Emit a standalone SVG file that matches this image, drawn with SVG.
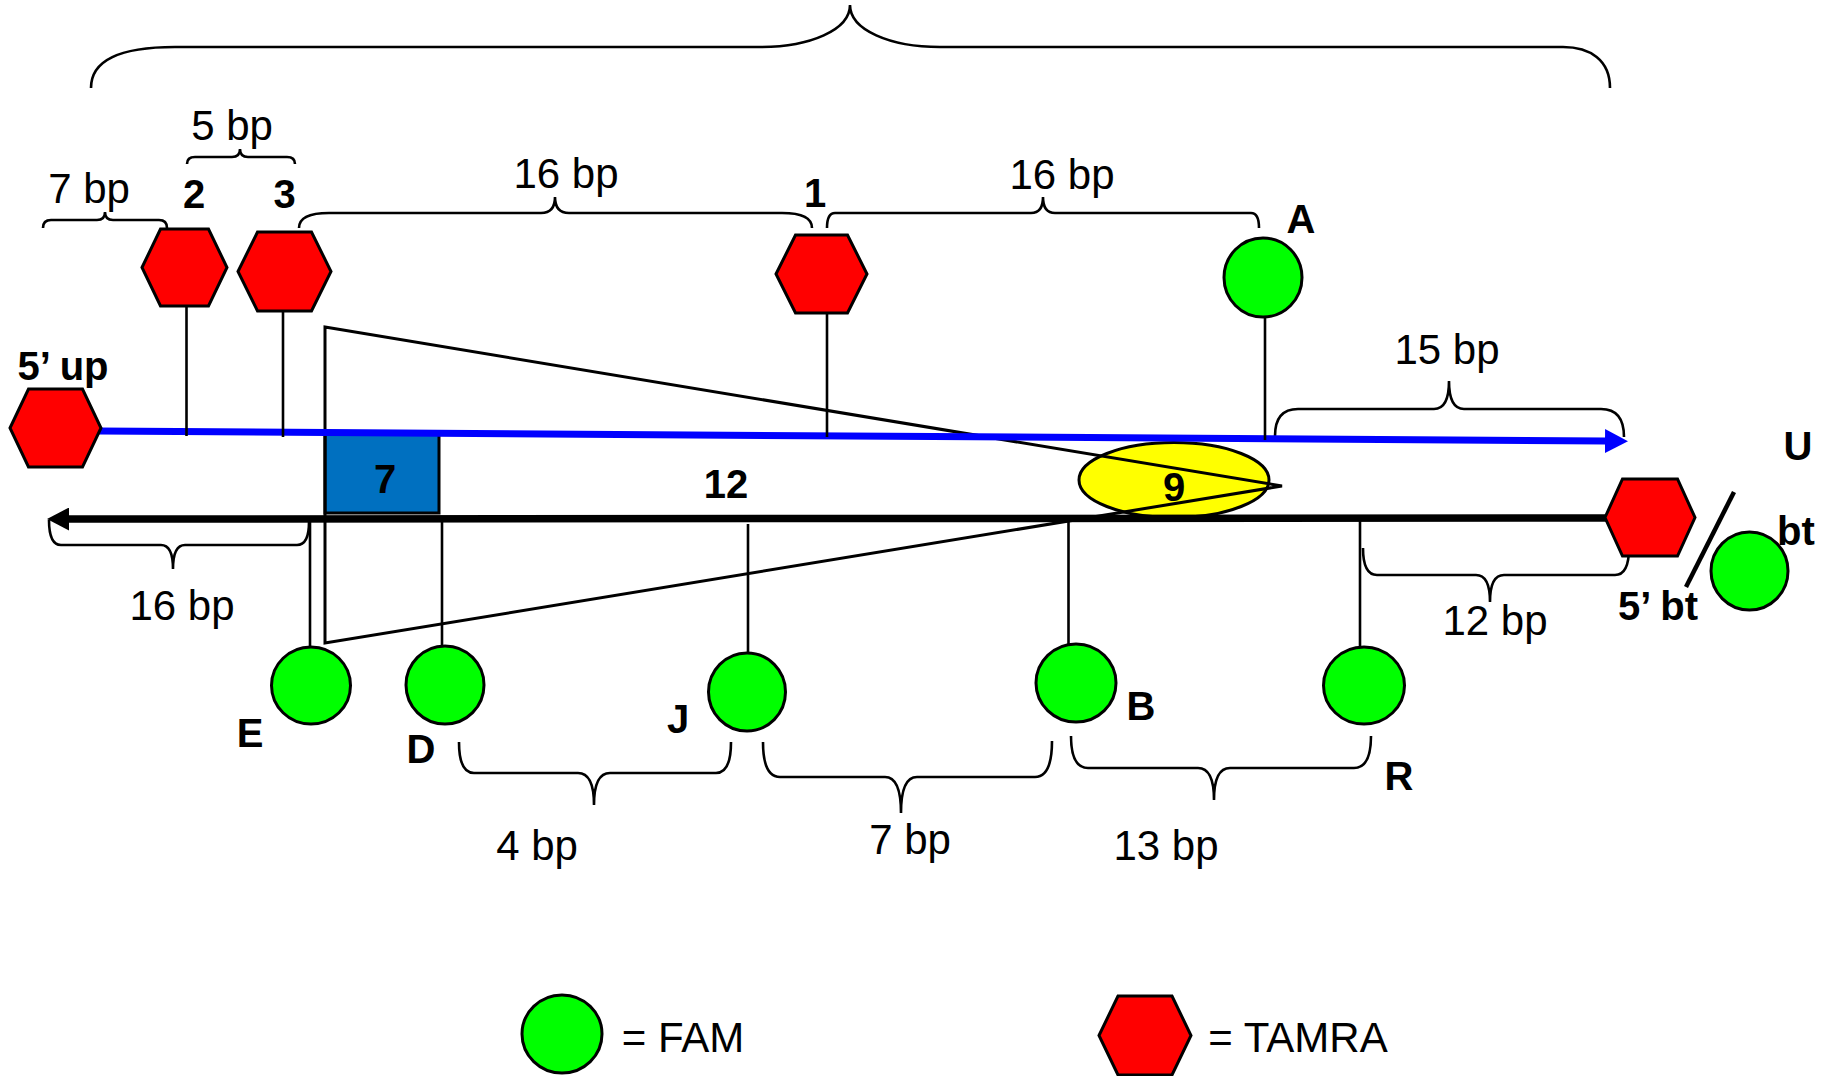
<svg xmlns="http://www.w3.org/2000/svg" width="1829" height="1076" viewBox="0 0 1829 1076">
<style>
.lbl{font-family:"Liberation Sans",Arial,sans-serif;font-size:42px;fill:#000;text-anchor:middle}
.bld{font-family:"Liberation Sans",Arial,sans-serif;font-size:40px;font-weight:bold;fill:#000;text-anchor:middle}
.brace{fill:none;stroke:#000;stroke-width:2.6}
.stem{stroke:#000;stroke-width:2.6}
.fam{fill:#00FF00;stroke:#000;stroke-width:3}
.tamra{fill:#FF0000;stroke:#000;stroke-width:3}
</style>
<defs>
<marker id="arrBlue" viewBox="0 0 23 24" refX="0" refY="12" markerWidth="23" markerHeight="24" markerUnits="userSpaceOnUse" orient="auto"><path d="M0,0 L23,12 L0,24 z" fill="#0000FF"/></marker>
<marker id="arrBlack" viewBox="0 0 22 23" refX="0" refY="11.5" markerWidth="22" markerHeight="23" markerUnits="userSpaceOnUse" orient="auto"><path d="M0,0 L22,11.5 L0,23 z" fill="#000"/></marker>
</defs>
<rect width="1829" height="1076" fill="#fff"/>

<g id="braces">
<path class="brace" stroke-width="3" d="M91,88 C91,60 120,47 175,47 L760,47 C810,47 850,30 850,5 C850,30 890,47 940,47 L1563,47 C1590,47 1610,60 1610,88"/>
<path class="brace" d="M43,228 Q43,220 51,220 L97,220 Q105,220 105,212 Q105,220 113,220 L159,220 Q167,220 167,228"/>
<path class="brace" d="M187,164 Q187,157 195,157 L232,157 Q240,157 240,149 Q240,157 248,157 L287,157 Q295,157 295,164"/>
<path class="brace" d="M299,228 Q299,213 329,213 L541,213 Q555,213 555,197 Q555,213 569,213 L782,213 Q812,213 812,228"/>
<path class="brace" d="M827,228 Q827,213 835,213 L1031,213 Q1043,213 1043,197 Q1043,213 1055,213 L1251,213 Q1259,213 1259,228"/>
<path class="brace" d="M1275,436 Q1275,409 1298,409 L1434,409 Q1449,409 1449,381 Q1449,409 1464,409 L1601,409 Q1624,409 1624,437"/>
<path class="brace" d="M1363,548 Q1363,575 1377,575 L1476,575 Q1490,575 1490,602 Q1490,575 1504,575 L1615,575 Q1629,575 1629,548"/>
<path class="brace" d="M49,520 Q49,545 61,545 L161,545 Q173,545 173,569 Q173,545 185,545 L297,545 Q309,545 309,522"/>
<path class="brace" d="M459,742 Q459,773 474,773 L578,773 Q594,773 594,805 Q594,773 610,773 L716,773 Q731,773 731,742"/>
<path class="brace" d="M763,742 Q763,777 780,777 L885,777 Q901,777 901,813 Q901,777 917,777 L1035,777 Q1052,777 1052,741"/>
<path class="brace" d="M1071,736 Q1071,768 1088,768 L1198,768 Q1214,768 1214,800 Q1214,768 1230,768 L1354,768 Q1371,768 1371,736"/>
<text class="lbl" x="89" y="203">7 bp</text>
<text class="lbl" x="232" y="140">5 bp</text>
<text class="lbl" x="566" y="188">16 bp</text>
<text class="lbl" x="1062" y="189">16 bp</text>
<text class="lbl" x="1447" y="364">15 bp</text>
<text class="lbl" x="1495" y="635">12 bp</text>
<text class="lbl" x="182" y="620">16 bp</text>
<text class="lbl" x="537" y="860">4 bp</text>
<text class="lbl" x="910" y="854">7 bp</text>
<text class="lbl" x="1166" y="860">13 bp</text>
</g>

<g id="protein-9">
<ellipse cx="1174" cy="480" rx="95" ry="37.5" fill="#FFFF00" stroke="#000" stroke-width="3"/>
</g>
<g id="protein-7">
<rect x="325" y="434" width="114" height="79" fill="#0070C0" stroke="#000" stroke-width="3"/>
<text class="bld" x="385" y="493" font-size="42">7</text>
</g>

<g id="connectors">
<polygon points="325,327 1282,486 325,643" fill="none" stroke="#000" stroke-width="3"/>
<line x1="99" y1="431" x2="1605" y2="441" stroke="#0000FF" stroke-width="7" marker-end="url(#arrBlue)"/>
<line x1="1608" y1="518" x2="69" y2="519" stroke="#000" stroke-width="7.5" marker-end="url(#arrBlack)"/>
<line class="stem" x1="186.5" y1="306" x2="186.5" y2="436"/>
<line class="stem" x1="283" y1="311" x2="283" y2="437"/>
<line class="stem" x1="827" y1="309" x2="827" y2="437"/>
<line class="stem" x1="1265" y1="317" x2="1265" y2="440"/>
<line class="stem" x1="310" y1="522" x2="310" y2="647"/>
<line class="stem" x1="442" y1="522" x2="442" y2="646"/>
<line class="stem" x1="748" y1="524" x2="748" y2="653"/>
<line class="stem" x1="1068.5" y1="520" x2="1068.5" y2="644"/>
<line class="stem" x1="1360" y1="520" x2="1360" y2="647"/>
<line x1="1734" y1="492" x2="1686" y2="587" stroke="#000" stroke-width="4.5"/>
</g>

<g id="label-12"><text class="bld" x="726" y="498" font-size="42">12</text></g>
<g id="label-9"><text class="bld" x="1174" y="501" font-size="42">9</text></g>
<g id="label-U"><text class="bld" x="1798" y="460">U</text></g>

<g id="node-5up">
<polygon class="tamra" points="10,428 28.5,389 82.5,389 101,428 82.5,467 28.5,467"/>
<text class="bld" x="63" y="380">5’ up</text>
</g>
<g id="node-2">
<polygon class="tamra" points="142,267.5 160.5,229 208.5,229 227,267.5 208.5,306 160.5,306"/>
<text class="bld" x="194" y="208">2</text>
</g>
<g id="node-3">
<polygon class="tamra" points="238,271.5 257.5,232 311.5,232 331,271.5 311.5,311 257.5,311"/>
<text class="bld" x="284.5" y="208">3</text>
</g>
<g id="node-1">
<polygon class="tamra" points="776,274 795.5,235 847.5,235 867,274 847.5,313 795.5,313"/>
<text class="bld" x="815" y="207">1</text>
</g>
<g id="node-A">
<ellipse class="fam" cx="1263" cy="277.5" rx="39" ry="39.5"/>
<text class="bld" x="1301" y="233">A</text>
</g>
<g id="node-5bt">
<polygon class="tamra" points="1605,517.5 1622.5,479 1677.5,479 1695,517.5 1677.5,556 1622.5,556"/>
<text class="bld" x="1658" y="620">5’ bt</text>
</g>
<g id="node-bt">
<ellipse class="fam" cx="1749.5" cy="571" rx="38.5" ry="39"/>
<text class="bld" x="1796" y="545">bt</text>
</g>
<g id="node-E">
<ellipse class="fam" cx="311" cy="685.5" rx="39.5" ry="38.5"/>
<text class="bld" x="250" y="747">E</text>
</g>
<g id="node-D">
<ellipse class="fam" cx="445" cy="685" rx="39" ry="39"/>
<text class="bld" x="421" y="763">D</text>
</g>
<g id="node-J">
<ellipse class="fam" cx="747" cy="692" rx="38.5" ry="39"/>
<text class="bld" x="678" y="733">J</text>
</g>
<g id="node-B">
<ellipse class="fam" cx="1076" cy="683" rx="40" ry="39"/>
<text class="bld" x="1141" y="720">B</text>
</g>
<g id="node-R">
<ellipse class="fam" cx="1364" cy="685.5" rx="40.5" ry="38.5"/>
<text class="bld" x="1399" y="790">R</text>
</g>

<g id="legend-fam">
<ellipse class="fam" cx="562" cy="1034" rx="40" ry="39"/>
<text class="lbl" x="683" y="1052">= FAM</text>
</g>
<g id="legend-tamra">
<polygon class="tamra" points="1099,1035.5 1118,996 1172,996 1191,1035.5 1172,1075 1118,1075"/>
<text class="lbl" x="1298" y="1052">= TAMRA</text>
</g>
</svg>
